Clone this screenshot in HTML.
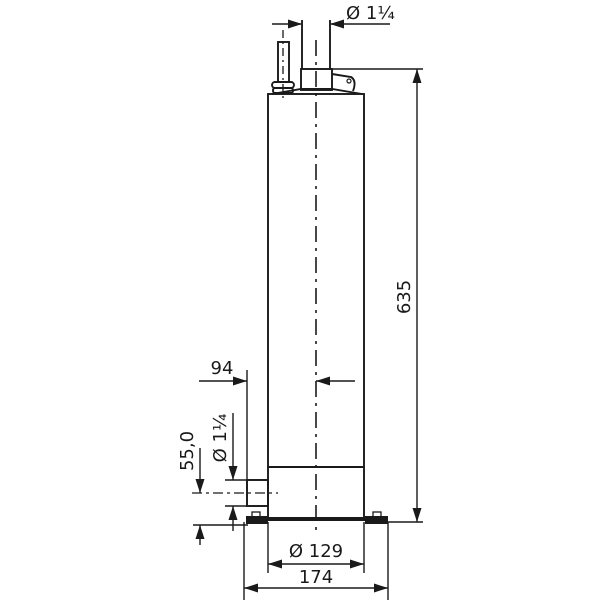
<!DOCTYPE html>
<html><head><meta charset="utf-8"><style>html,body{margin:0;padding:0;background:#fff}</style></head>
<body>
<svg width="600" height="600" viewBox="0 0 600 600" xmlns="http://www.w3.org/2000/svg" font-family="'DejaVu Sans','Liberation Sans',sans-serif" font-size="18" fill="none" stroke="#1a1a1a">
<defs>
<marker id="a" markerWidth="15" markerHeight="9" refX="14" refY="4.5" orient="auto" markerUnits="userSpaceOnUse"><path d="M0,0 L14,4.5 L0,9 Z" fill="#1a1a1a" stroke="none"/></marker>
</defs>
<g stroke-width="1.9">
<rect x="268" y="94" width="96" height="425"/>
<line x1="268" y1="467" x2="364" y2="467"/>
<path d="M272,94 L301,89 L332,89 L362,94"/>
<line x1="302" y1="20" x2="302" y2="69"/>
<line x1="330" y1="20" x2="330" y2="69"/>
<rect x="301" y="69" width="31" height="21"/>
<path d="M332,74 L351,77 Q356,80 354,88 L353,91"/>
<circle cx="349" cy="81" r="2" stroke-width="1.2"/>
<rect x="278" y="42" width="11" height="40"/>
<rect x="272" y="82" width="22" height="6" rx="3"/>
<rect x="273" y="88" width="20" height="5" rx="2"/>
<rect x="247" y="480" width="21" height="26"/>
<line x1="268" y1="519" x2="365" y2="519" stroke-width="4"/>
</g>
<rect x="246" y="516" width="22" height="8" fill="#1a1a1a" stroke="none"/>
<rect x="365" y="516" width="23" height="8" fill="#1a1a1a" stroke="none"/>
<rect x="252" y="512" width="8" height="5" stroke-width="1.3"/>
<rect x="373" y="512" width="8" height="5" stroke-width="1.3"/>
<line x1="316" y1="40" x2="316" y2="530" stroke-width="1.6" stroke-dasharray="16,6,3,6"/>
<line x1="283" y1="30" x2="283" y2="100" stroke-width="1.3" stroke-dasharray="8,4,2,4"/>
<line x1="192" y1="493" x2="278" y2="493" stroke-width="1.3" stroke-dasharray="10,4,3,4"/>
<g stroke-width="1.4">
<line x1="272" y1="24" x2="302" y2="24" marker-end="url(#a)"/>
<line x1="390" y1="24" x2="330" y2="24" marker-end="url(#a)"/>
<line x1="332" y1="69" x2="423" y2="69"/>
<line x1="388" y1="522" x2="423" y2="522"/>
<line x1="417" y1="296" x2="417" y2="69" marker-end="url(#a)"/>
<line x1="417" y1="296" x2="417" y2="522" marker-end="url(#a)"/>
<line x1="199" y1="381" x2="247" y2="381" marker-end="url(#a)"/>
<line x1="247" y1="370" x2="247" y2="506"/>
<line x1="355" y1="381" x2="316" y2="381" marker-end="url(#a)"/>
<line x1="225" y1="480" x2="268" y2="480"/>
<line x1="225" y1="506" x2="268" y2="506"/>
<line x1="233" y1="413" x2="233" y2="480" marker-end="url(#a)"/>
<line x1="233" y1="531" x2="233" y2="506" marker-end="url(#a)"/>
<line x1="193" y1="525" x2="248" y2="525"/>
<line x1="200" y1="448" x2="200" y2="493" marker-end="url(#a)"/>
<line x1="200" y1="545" x2="200" y2="525" marker-end="url(#a)"/>
<line x1="268" y1="522" x2="268" y2="573"/>
<line x1="364" y1="522" x2="364" y2="573"/>
<line x1="244" y1="522" x2="244" y2="600"/>
<line x1="388" y1="522" x2="388" y2="600"/>
<line x1="316" y1="564" x2="268" y2="564" marker-end="url(#a)"/>
<line x1="316" y1="564" x2="364" y2="564" marker-end="url(#a)"/>
<line x1="316" y1="588" x2="244" y2="588" marker-end="url(#a)"/>
<line x1="316" y1="588" x2="388" y2="588" marker-end="url(#a)"/>
</g>
<g fill="#1a1a1a" stroke="none">
<text x="346" y="19">Ø 1¼</text>
<text x="316" y="557" text-anchor="middle">Ø 129</text>
<text x="316" y="583" text-anchor="middle">174</text>
<text x="222" y="374" text-anchor="middle">94</text>
<text transform="translate(410,297) rotate(-90)" text-anchor="middle">635</text>
<text transform="translate(226,438) rotate(-90)" text-anchor="middle">Ø 1¼</text>
<text transform="translate(193,451) rotate(-90)" text-anchor="middle">55,0</text>
</g>
</svg>
</body></html>
